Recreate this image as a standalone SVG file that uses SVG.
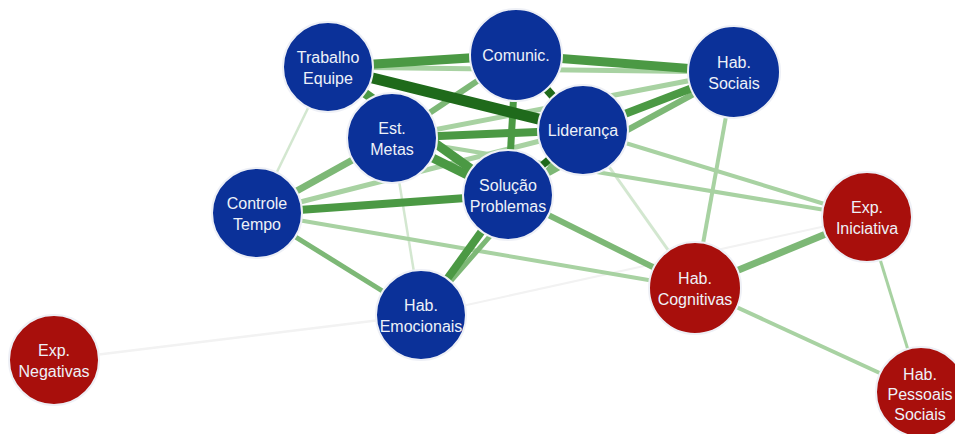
<svg xmlns="http://www.w3.org/2000/svg" width="955" height="434" viewBox="0 0 955 434">
  <style>
    .e { fill: none; stroke-linecap: butt; }
    .dark { stroke: #1f6a1b; }
    .med { stroke: #4b9944; }
    .medl { stroke: #7db876; }
    .lite { stroke: #a8d2a2; }
    .vlite { stroke: #d3e7d0; }
    .faint { stroke: #f2f2f2; }
    .node circle { stroke: #eef0f6; stroke-width: 2; }
    .blue circle { fill: #0b3199; }
    .red circle { fill: #a80f0c; }
    .node text { font-family: "Liberation Sans", Arial, sans-serif; font-size: 16px; fill: #eef1f8; text-anchor: middle; }
  </style>
  <rect width="955" height="434" fill="#ffffff"/>

  <!-- connectors: weight shown by width and shade -->
  <g id="connectors">
    <line class="e faint" x1="54" y1="360" x2="421" y2="315" stroke-width="2.5"/>
    <line class="e faint" x1="421" y1="315" x2="867" y2="217" stroke-width="2"/>
    <line class="e vlite" x1="328" y1="67" x2="257" y2="213" stroke-width="2.5"/>
    <line class="e vlite" x1="392" y1="138" x2="421" y2="315" stroke-width="2.5"/>
    <line class="e vlite" x1="583" y1="130" x2="695" y2="288" stroke-width="3"/>
    <line class="e lite" x1="328" y1="67" x2="734" y2="72" stroke-width="5"/>
    <line class="e lite" x1="392" y1="138" x2="734" y2="72" stroke-width="5"/>
    <line class="e lite" x1="257" y1="213" x2="583" y2="130" stroke-width="5"/>
    <line class="e lite" x1="257" y1="213" x2="695" y2="288" stroke-width="4"/>
    <line class="e lite" x1="734" y1="72" x2="695" y2="288" stroke-width="4"/>
    <line class="e lite" x1="583" y1="130" x2="867" y2="217" stroke-width="4"/>
    <line class="e lite" x1="392" y1="138" x2="867" y2="217" stroke-width="4"/>
    <line class="e lite" x1="695" y1="288" x2="921" y2="392" stroke-width="4"/>
    <line class="e lite" x1="867" y1="217" x2="921" y2="392" stroke-width="3"/>
    <line class="e medl" x1="516" y1="55" x2="392" y2="138" stroke-width="6"/>
    <line class="e medl" x1="257" y1="213" x2="392" y2="138" stroke-width="7"/>
    <line class="e medl" x1="508" y1="195" x2="734" y2="72" stroke-width="6"/>
    <line class="e medl" x1="583" y1="130" x2="421" y2="315" stroke-width="5"/>
    <line class="e medl" x1="508" y1="195" x2="695" y2="288" stroke-width="6"/>
    <line class="e medl" x1="695" y1="288" x2="867" y2="217" stroke-width="7"/>
    <line class="e medl" x1="257" y1="213" x2="421" y2="315" stroke-width="5"/>
    <line class="e med" x1="328" y1="67" x2="516" y2="55" stroke-width="9"/>
    <line class="e med" x1="516" y1="55" x2="734" y2="72" stroke-width="9"/>
    <line class="e med" x1="516" y1="55" x2="508" y2="195" stroke-width="7"/>
    <line class="e med" x1="583" y1="130" x2="734" y2="72" stroke-width="8"/>
    <line class="e med" x1="392" y1="138" x2="583" y2="130" stroke-width="8"/>
    <line class="e med" x1="392" y1="138" x2="508" y2="195" stroke-width="9"/>
    <line class="e med" x1="328" y1="67" x2="508" y2="195" stroke-width="9"/>
    <line class="e med" x1="257" y1="213" x2="508" y2="195" stroke-width="8"/>
    <line class="e med" x1="508" y1="195" x2="421" y2="315" stroke-width="8"/>
    <line class="e dark" x1="328" y1="67" x2="583" y2="130" stroke-width="11"/>
    <line class="e dark" x1="516" y1="55" x2="583" y2="130" stroke-width="8"/>
    <line class="e dark" x1="583" y1="130" x2="508" y2="195" stroke-width="7"/>
  </g>

  <!-- nodes -->
  <g id="exp-negativas" class="node red">
    <circle cx="54" cy="360" r="45"/>
    <text x="54" y="356">Exp.</text>
    <text x="54" y="377">Negativas</text>
  </g>
  <g id="hab-cognitivas" class="node red">
    <circle cx="695" cy="288" r="46"/>
    <text x="695" y="284">Hab.</text>
    <text x="695" y="305">Cognitivas</text>
  </g>
  <g id="exp-iniciativa" class="node red">
    <circle cx="867" cy="217" r="45"/>
    <text x="867" y="213">Exp.</text>
    <text x="867" y="234">Iniciativa</text>
  </g>
  <g id="hab-pessoais-sociais" class="node red">
    <circle cx="921" cy="392" r="45"/>
    <text x="920" y="380">Hab.</text>
    <text x="920" y="400">Pessoais</text>
    <text x="920" y="420">Sociais</text>
  </g>
  <g id="hab-emocionais" class="node blue">
    <circle cx="421" cy="315" r="45"/>
    <text x="421" y="311">Hab.</text>
    <text x="421" y="332">Emocionais</text>
  </g>
  <g id="controle-tempo" class="node blue">
    <circle cx="257" cy="213" r="45"/>
    <text x="257" y="209">Controle</text>
    <text x="257" y="230">Tempo</text>
  </g>
  <g id="trabalho-equipe" class="node blue">
    <circle cx="328" cy="67" r="45"/>
    <text x="328" y="63">Trabalho</text>
    <text x="328" y="84">Equipe</text>
  </g>
  <g id="hab-sociais" class="node blue">
    <circle cx="734" cy="72" r="46"/>
    <text x="734" y="68">Hab.</text>
    <text x="734" y="89">Sociais</text>
  </g>
  <g id="comunic" class="node blue">
    <circle cx="516" cy="55" r="46"/>
    <text x="516" y="61">Comunic.</text>
  </g>
  <g id="est-metas" class="node blue">
    <circle cx="392" cy="138" r="45"/>
    <text x="392" y="134">Est.</text>
    <text x="392" y="155">Metas</text>
  </g>
  <g id="lideranca" class="node blue">
    <circle cx="583" cy="130" r="45"/>
    <text x="583" y="136">Liderança</text>
  </g>
  <g id="solucao-problemas" class="node blue">
    <circle cx="508" cy="195" r="45"/>
    <text x="508" y="191">Solução</text>
    <text x="508" y="212">Problemas</text>
  </g>
</svg>
